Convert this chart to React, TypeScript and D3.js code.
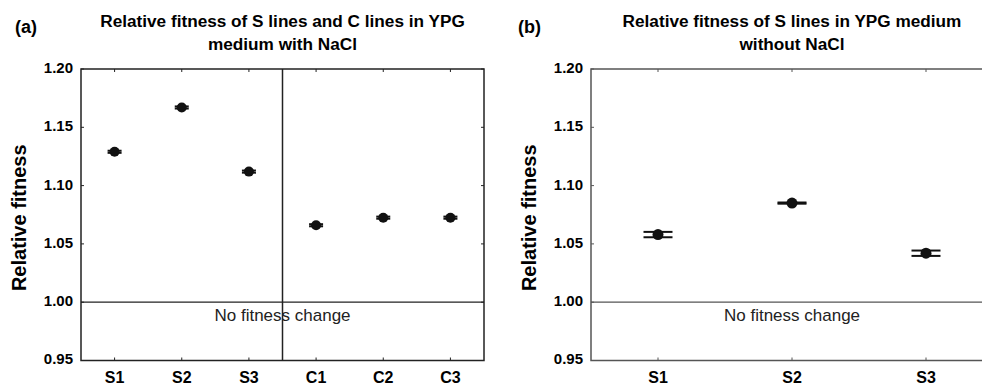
import * as d3 from "d3";
import React from "react";

// panel (a): S lines and C lines, with NaCl
const catsA = ["S1", "S2", "S3", "C1", "C2", "C3"];
const meansA = [1.129, 1.167, 1.112, 1.066, 1.0725, 1.0725];
const errA = [0.0009, 0.0009, 0.0009, 0.0009, 0.0009, 0.0009];

// panel (b): S lines, without NaCl
const catsB = ["S1", "S2", "S3"];
const meansB = [1.058, 1.085, 1.042];
const errB = [0.0023, 0.0005, 0.0023];

const yTicks = [0.95, 1.0, 1.05, 1.1, 1.15, 1.2];
const FONT = "'Liberation Sans', Arial, sans-serif";

function Panel({
  letter, letterX, title, cats, means, errs, left, right, top = 69, bottom = 360.5,
  stroke, capHalf, dotR, divider = false,
}) {
  const x = d3.scalePoint().domain(cats).range([left, right]).padding(0.5);
  const y = d3.scaleLinear().domain([0.95, 1.2]).range([bottom, top]);
  const cx = (left + right) / 2;
  return (
    <g fontFamily={FONT}>
      <text x={letterX} y={33} fontSize={18} fontWeight="bold">{letter}</text>
      {title.map((t, i) => (
        <text key={i} x={cx} y={27 + i * 23} fontSize={17.2} fontWeight="bold" textAnchor="middle">{t}</text>
      ))}
      <text transform={`translate(${left - 60},${(top + bottom) / 2 + 3}) rotate(-90)`}
        fontSize={20} fontWeight="bold" textAnchor="middle" dominantBaseline="middle">Relative fitness</text>
      {yTicks.map(t => (
        <g key={t}>
          <text x={left - 8} y={y(t)} fontSize={15} fontWeight="bold" textAnchor="end" dominantBaseline="middle">{t.toFixed(2)}</text>
          <line x1={left} x2={left + 3} y1={y(t)} y2={y(t)} stroke={stroke} />
          <line x1={right} x2={right - 3} y1={y(t)} y2={y(t)} stroke={stroke} />
        </g>
      ))}
      {cats.map(c => (
        <g key={c}>
          <line x1={x(c)} x2={x(c)} y1={top} y2={top + 3} stroke={stroke} />
          <line x1={x(c)} x2={x(c)} y1={bottom} y2={bottom - 3} stroke={stroke} />
          <text x={x(c)} y={bottom + 18.5} fontSize={16} fontWeight="bold" textAnchor="middle" dominantBaseline="middle">{c}</text>
        </g>
      ))}
      <line x1={left} x2={right} y1={y(1)} y2={y(1)} stroke={stroke} strokeWidth={1.3} />
      <text x={cx} y={y(1) + 14} fontSize={17} textAnchor="middle" dominantBaseline="middle" fill="#222">No fitness change</text>
      {divider && (
        <line x1={cx} x2={cx} y1={top} y2={bottom} stroke={stroke} strokeWidth={1.5} />
      )}
      <rect x={left} y={top} width={right - left} height={bottom - top} fill="none" stroke={stroke} strokeWidth={1.5} />
      {cats.map((c, i) => (
        <g key={c} fill="#111" stroke="#111">
          <line x1={x(c) - capHalf} x2={x(c) + capHalf} y1={y(means[i] + errs[i])} y2={y(means[i] + errs[i])} strokeWidth={2} />
          <line x1={x(c) - capHalf} x2={x(c) + capHalf} y1={y(means[i] - errs[i])} y2={y(means[i] - errs[i])} strokeWidth={2} />
          <circle cx={x(c)} cy={y(means[i])} r={dotR} stroke="none" />
        </g>
      ))}
    </g>
  );
}

export default function App() {
  return (
    <svg width={982} height={386} style={{ position: "absolute", left: 0, top: 0, background: "#fff" }}>
      <rect width={982} height={386} fill="#fff" />
      <Panel letter="(a)" letterX={15} title={["Relative fitness of S lines and C lines in YPG", "medium with NaCl"]}
        cats={catsA} means={meansA} errs={errA} left={81} right={484}
        stroke="#222" capHalf={7} dotR={5} divider />
      <Panel letter="(b)" letterX={518} title={["Relative fitness of S lines in YPG medium", "without NaCl"]}
        cats={catsB} means={meansB} errs={errB} left={591} right={993}
        stroke="#555" capHalf={14.5} dotR={5.5} />
    </svg>
  );
}
